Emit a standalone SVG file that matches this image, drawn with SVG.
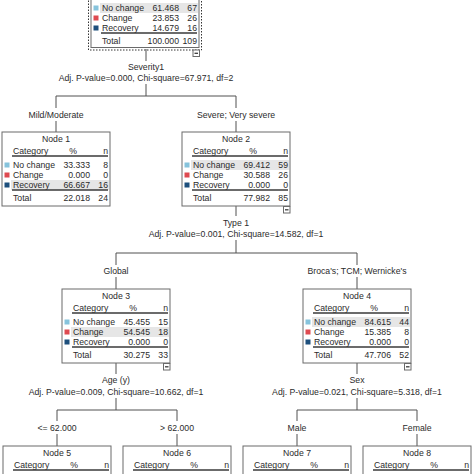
<svg xmlns="http://www.w3.org/2000/svg" width="474" height="474" viewBox="0 0 474 474">
<style>
text{font-family:"Liberation Sans",Arial,sans-serif;font-size:8.7px;fill:#2b2b2b}
.m{text-anchor:middle}.e{text-anchor:end}
.box{fill:#fff;stroke:#6a6a6a;stroke-width:1}
.ul{stroke:#3a3a3a;stroke-width:1.3}
.hl{fill:#e6e6e6}
.c1{fill:#86c3dc}.c2{fill:#de4a50}.c3{fill:#1d4f7c}
.con line{stroke:#505050;stroke-width:1}
.mn{fill:#fff;stroke:#6a6a6a;stroke-width:1}
.dot{fill:none;stroke:#333;stroke-width:1;stroke-dasharray:1.5 1.5}
</style>
<rect width="474" height="474" fill="#fff"/>
<g id="connectors" class="con">
<line x1="146" y1="49" x2="146" y2="61"/>
<line x1="146" y1="84" x2="146" y2="96"/>
<line x1="56" y1="96" x2="236" y2="96"/>
<line x1="56" y1="96" x2="56" y2="108"/>
<line x1="56" y1="121" x2="56" y2="132"/>
<line x1="236" y1="96" x2="236" y2="108"/>
<line x1="236" y1="121" x2="236" y2="132"/>
<line x1="236" y1="206" x2="236" y2="216"/>
<line x1="236" y1="240" x2="236" y2="253"/>
<line x1="116" y1="253" x2="357" y2="253"/>
<line x1="116" y1="253" x2="116" y2="265"/>
<line x1="116" y1="277" x2="116" y2="289"/>
<line x1="357" y1="253" x2="357" y2="265"/>
<line x1="357" y1="277" x2="357" y2="289"/>
<line x1="116" y1="363" x2="116" y2="374"/>
<line x1="116" y1="398" x2="116" y2="410"/>
<line x1="57" y1="410" x2="177" y2="410"/>
<line x1="57" y1="410" x2="57" y2="421"/>
<line x1="57" y1="434" x2="57" y2="446"/>
<line x1="177" y1="410" x2="177" y2="421"/>
<line x1="177" y1="434" x2="177" y2="446"/>
<line x1="357" y1="363" x2="357" y2="374"/>
<line x1="357" y1="398" x2="357" y2="410"/>
<line x1="297" y1="410" x2="417" y2="410"/>
<line x1="297" y1="410" x2="297" y2="421"/>
<line x1="297" y1="434" x2="297" y2="446"/>
<line x1="417" y1="410" x2="417" y2="421"/>
<line x1="417" y1="434" x2="417" y2="446"/>
<text class="m" x="146" y="70">Severity1</text>
<text class="m" x="146" y="81">Adj. P-value=0.000, Chi-square=67.971, df=2</text>
<text class="m" x="56" y="118">Mild/Moderate</text>
<text class="m" x="236" y="118">Severe; Very severe</text>
<text class="m" x="236" y="226">Type 1</text>
<text class="m" x="236" y="237">Adj. P-value=0.001, Chi-square=14.582, df=1</text>
<text class="m" x="116" y="274">Global</text>
<text class="m" x="357" y="274">Broca's; TCM; Wernicke's</text>
<text class="m" x="116" y="383">Age (y)</text>
<text class="m" x="116" y="395">Adj. P-value=0.009, Chi-square=10.662, df=1</text>
<text class="m" x="57" y="431">&lt;= 62.000</text>
<text class="m" x="177" y="431">&gt; 62.000</text>
<text class="m" x="357" y="383">Sex</text>
<text class="m" x="357" y="395">Adj. P-value=0.021, Chi-square=5.318, df=1</text>
<text class="m" x="297" y="431">Male</text>
<text class="m" x="417" y="431">Female</text>
</g>
<g id="node0" transform="translate(91,-25)">
<rect class="dot" x="-2.5" y="-2" width="113" height="77"/>
<rect class="box" x="0" y="0" width="108" height="72.5"/>
<rect class="hl" x="9" y="28" width="98" height="10"/>
<rect class="c1" x="2.5" y="30.5" width="5" height="5"/>
<rect class="c2" x="2.5" y="40.5" width="5" height="5"/>
<rect class="c3" x="2.5" y="50.5" width="5" height="5"/>
<text x="11" y="36">No change</text><text class="e" x="88" y="36">61.468</text><text class="e" x="106" y="36">67</text>
<text x="11" y="46">Change</text><text class="e" x="88" y="46">23.853</text><text class="e" x="106" y="46">26</text>
<text x="11" y="56">Recovery</text><text class="e" x="88" y="56">14.679</text><text class="e" x="106" y="56">16</text>
<line class="ul" x1="10" y1="58" x2="106" y2="58"/>
<text x="11" y="69">Total</text><text class="e" x="88" y="69">100.000</text><text class="e" x="106" y="69">109</text>
<rect class="mn" x="102" y="75" width="6.5" height="6.5"/><line class="ul" x1="103.5" y1="78.3" x2="107" y2="78.3" stroke-width="1"/>
</g>
<g id="node1" transform="translate(2,132)">
<rect class="box" x="0" y="0" width="108" height="74"/>
<text class="m" x="54" y="10">Node 1</text>
<text x="11" y="22">Category</text><text class="m" x="71" y="22">%</text><text class="e" x="106" y="22">n</text>
<line class="ul" x1="10" y1="24" x2="106" y2="24"/>
<rect class="hl" x="9" y="48" width="98" height="10"/>
<rect class="c1" x="2.5" y="30.5" width="5" height="5"/>
<rect class="c2" x="2.5" y="40.5" width="5" height="5"/>
<rect class="c3" x="2.5" y="50.5" width="5" height="5"/>
<text x="11" y="36">No change</text><text class="e" x="88" y="36">33.333</text><text class="e" x="106" y="36">8</text>
<text x="11" y="46">Change</text><text class="e" x="88" y="46">0.000</text><text class="e" x="106" y="46">0</text>
<text x="11" y="56">Recovery</text><text class="e" x="88" y="56">66.667</text><text class="e" x="106" y="56">16</text>
<line class="ul" x1="10" y1="58" x2="106" y2="58"/>
<text x="11" y="69">Total</text><text class="e" x="88" y="69">22.018</text><text class="e" x="106" y="69">24</text>
</g>
<g id="node2" transform="translate(182,132)">
<rect class="box" x="0" y="0" width="108" height="74"/>
<text class="m" x="54" y="10">Node 2</text>
<text x="11" y="22">Category</text><text class="m" x="71" y="22">%</text><text class="e" x="106" y="22">n</text>
<line class="ul" x1="10" y1="24" x2="106" y2="24"/>
<rect class="hl" x="9" y="28" width="98" height="10"/>
<rect class="c1" x="2.5" y="30.5" width="5" height="5"/>
<rect class="c2" x="2.5" y="40.5" width="5" height="5"/>
<rect class="c3" x="2.5" y="50.5" width="5" height="5"/>
<text x="11" y="36">No change</text><text class="e" x="88" y="36">69.412</text><text class="e" x="106" y="36">59</text>
<text x="11" y="46">Change</text><text class="e" x="88" y="46">30.588</text><text class="e" x="106" y="46">26</text>
<text x="11" y="56">Recovery</text><text class="e" x="88" y="56">0.000</text><text class="e" x="106" y="56">0</text>
<line class="ul" x1="10" y1="58" x2="106" y2="58"/>
<text x="11" y="69">Total</text><text class="e" x="88" y="69">77.982</text><text class="e" x="106" y="69">85</text>
<rect class="mn" x="101.5" y="74.5" width="6.5" height="6.5"/><line class="ul" x1="103" y1="77.8" x2="106.5" y2="77.8" stroke-width="1"/>
</g>
<g id="node3" transform="translate(62,289)">
<rect class="box" x="0" y="0" width="108" height="74"/>
<text class="m" x="54" y="10">Node 3</text>
<text x="11" y="22">Category</text><text class="m" x="71" y="22">%</text><text class="e" x="106" y="22">n</text>
<line class="ul" x1="10" y1="24" x2="106" y2="24"/>
<rect class="hl" x="9" y="38" width="98" height="10"/>
<rect class="c1" x="2.5" y="30.5" width="5" height="5"/>
<rect class="c2" x="2.5" y="40.5" width="5" height="5"/>
<rect class="c3" x="2.5" y="50.5" width="5" height="5"/>
<text x="11" y="36">No change</text><text class="e" x="88" y="36">45.455</text><text class="e" x="106" y="36">15</text>
<text x="11" y="46">Change</text><text class="e" x="88" y="46">54.545</text><text class="e" x="106" y="46">18</text>
<text x="11" y="56">Recovery</text><text class="e" x="88" y="56">0.000</text><text class="e" x="106" y="56">0</text>
<line class="ul" x1="10" y1="58" x2="106" y2="58"/>
<text x="11" y="69">Total</text><text class="e" x="88" y="69">30.275</text><text class="e" x="106" y="69">33</text>
<rect class="mn" x="101.5" y="74.5" width="6.5" height="6.5"/><line class="ul" x1="103" y1="77.8" x2="106.5" y2="77.8" stroke-width="1"/>
</g>
<g id="node4" transform="translate(303,289)">
<rect class="box" x="0" y="0" width="108" height="74"/>
<text class="m" x="54" y="10">Node 4</text>
<text x="11" y="22">Category</text><text class="m" x="71" y="22">%</text><text class="e" x="106" y="22">n</text>
<line class="ul" x1="10" y1="24" x2="106" y2="24"/>
<rect class="hl" x="9" y="28" width="98" height="10"/>
<rect class="c1" x="2.5" y="30.5" width="5" height="5"/>
<rect class="c2" x="2.5" y="40.5" width="5" height="5"/>
<rect class="c3" x="2.5" y="50.5" width="5" height="5"/>
<text x="11" y="36">No change</text><text class="e" x="88" y="36">84.615</text><text class="e" x="106" y="36">44</text>
<text x="11" y="46">Change</text><text class="e" x="88" y="46">15.385</text><text class="e" x="106" y="46">8</text>
<text x="11" y="56">Recovery</text><text class="e" x="88" y="56">0.000</text><text class="e" x="106" y="56">0</text>
<line class="ul" x1="10" y1="58" x2="106" y2="58"/>
<text x="11" y="69">Total</text><text class="e" x="88" y="69">47.706</text><text class="e" x="106" y="69">52</text>
<rect class="mn" x="101.5" y="74.5" width="6.5" height="6.5"/><line class="ul" x1="103" y1="77.8" x2="106.5" y2="77.8" stroke-width="1"/>
</g>
<g id="node5" transform="translate(3,446)">
<rect class="box" x="0" y="0" width="108" height="40"/>
<text class="m" x="54" y="10">Node 5</text>
<text x="11" y="22">Category</text><text class="m" x="71" y="22">%</text><text class="e" x="106" y="22">n</text>
<line class="ul" x1="10" y1="24" x2="106" y2="24"/>
</g>
<g id="node6" transform="translate(123,446)">
<rect class="box" x="0" y="0" width="108" height="40"/>
<text class="m" x="54" y="10">Node 6</text>
<text x="11" y="22">Category</text><text class="m" x="71" y="22">%</text><text class="e" x="106" y="22">n</text>
<line class="ul" x1="10" y1="24" x2="106" y2="24"/>
</g>
<g id="node7" transform="translate(243,446)">
<rect class="box" x="0" y="0" width="108" height="40"/>
<text class="m" x="54" y="10">Node 7</text>
<text x="11" y="22">Category</text><text class="m" x="71" y="22">%</text><text class="e" x="106" y="22">n</text>
<line class="ul" x1="10" y1="24" x2="106" y2="24"/>
</g>
<g id="node8" transform="translate(363,446)">
<rect class="box" x="0" y="0" width="108" height="40"/>
<text class="m" x="54" y="10">Node 8</text>
<text x="11" y="22">Category</text><text class="m" x="71" y="22">%</text><text class="e" x="106" y="22">n</text>
<line class="ul" x1="10" y1="24" x2="106" y2="24"/>
</g>
</svg>
